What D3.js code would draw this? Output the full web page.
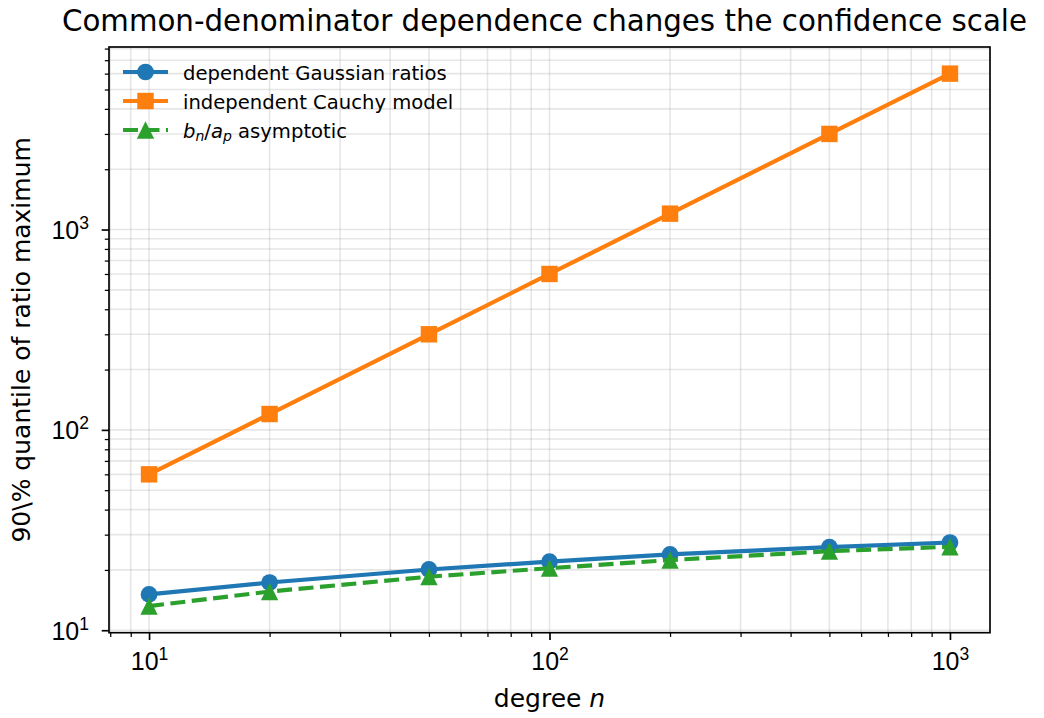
<!DOCTYPE html>
<html>
<head>
<meta charset="utf-8">
<script src="https://cdn.jsdelivr.net/npm/d3@7"></script>
<style>
  body { margin: 0; background: #fff; }
  svg { display: block; font-family: "DejaVu Sans", sans-serif; }
</style>
</head>
<body>
<div id="chart"></div>
<script>
// degree n
const degrees = [10, 20, 50, 100, 200, 500, 1000];
// 90% quantile of the ratio maximum
const gaussianRatios = [15.1, 17.3, 20.1, 22.0, 23.9, 26.0, 27.4];
const cauchyModel = [60, 120, 300, 600, 1200, 3000, 6000];
const asymptotic = [13.2, 15.6, 18.5, 20.4, 22.4, 24.8, 26.1];

const xTicks = [10, 100, 1000];
const yTicks = [10, 100, 1000];

const width = 1044, height = 718;
const plot = { left: 109, right: 990, top: 47, bottom: 632.7 };

const svg = d3.select('#chart')
    .append('svg')
    .attr('width', width)
    .attr('height', height);

// log limits with a 5% margin, like matplotlib
function logDomain(vals) {
    const lo = Math.log10(d3.min(vals)), hi = Math.log10(d3.max(vals));
    const m = (hi - lo) * 0.05;
    return [Math.pow(10, lo - m), Math.pow(10, hi + m)];
}

const x = d3.scaleLog()
    .domain(logDomain(degrees))
    .range([plot.left, plot.right]);

const y = d3.scaleLog()
    .domain(logDomain([...gaussianRatios, ...cauchyModel, ...asymptotic]))
    .range([plot.bottom, plot.top]);

function minorTicks(scale) {
    const [a, b] = scale.domain();
    const out = [];
    for (let e = Math.floor(Math.log10(a)); e <= Math.ceil(Math.log10(b)); e++) {
        for (let k = 2; k <= 9; k++) {
            const v = k * Math.pow(10, e);
            if (v >= a && v <= b) out.push(v);
        }
    }
    return out;
}
const xMinor = minorTicks(x);
const yMinor = minorTicks(y);

// grid, major and minor
const grid = svg.append('g').attr('stroke', '#b0b0b0').attr('stroke-opacity', 0.32).attr('stroke-width', 1.6);
grid.selectAll('.gx')
    .data([...xTicks, ...xMinor])
    .join('line')
    .attr('x1', d => x(d)).attr('x2', d => x(d))
    .attr('y1', plot.top).attr('y2', plot.bottom);
grid.selectAll('.gy')
    .data([...yTicks, ...yMinor])
    .join('line')
    .attr('y1', d => y(d)).attr('y2', d => y(d))
    .attr('x1', plot.left).attr('x2', plot.right);

// axes
const tickFont = 25;
function supLabel(sel, d) {
    const e = Math.round(Math.log10(d));
    sel.text(null);
    sel.append('tspan').text('10');
    sel.append('tspan').attr('font-size', '17.5px').attr('dy', '-10').text(e);
}

const xAxis = svg.append('g')
    .attr('transform', `translate(0,${plot.bottom})`)
    .call(d3.axisBottom(x).tickValues(xTicks).tickSize(7.3).tickFormat(''));
xAxis.select('.domain').remove();
xAxis.selectAll('.tick line').attr('stroke-width', 1.67);
xAxis.selectAll('.tick text')
    .attr('font-size', tickFont + 'px').attr('fill', '#000')
    .attr('y', 37.5).attr('dy', 0)
    .each(function(d) { supLabel(d3.select(this), d); });
svg.append('g')
    .attr('transform', `translate(0,${plot.bottom})`)
    .call(d3.axisBottom(x).tickValues(xMinor).tickSize(4.2).tickFormat(''))
    .call(g => g.select('.domain').remove())
    .selectAll('.tick line').attr('stroke-width', 1.25);

const yAxis = svg.append('g')
    .attr('transform', `translate(${plot.left},0)`)
    .call(d3.axisLeft(y).tickValues(yTicks).tickSize(7.3).tickFormat(''));
yAxis.select('.domain').remove();
yAxis.selectAll('.tick line').attr('stroke-width', 1.67);
yAxis.selectAll('.tick text')
    .attr('font-size', tickFont + 'px').attr('fill', '#000')
    .attr('x', -20).attr('dy', 9)
    .each(function(d) { supLabel(d3.select(this), d); });
svg.append('g')
    .attr('transform', `translate(${plot.left},0)`)
    .call(d3.axisLeft(y).tickValues(yMinor).tickSize(4.2).tickFormat(''))
    .call(g => g.select('.domain').remove())
    .selectAll('.tick line').attr('stroke-width', 1.25);

// matplotlib-style '^': as wide as tall, centred on its box
const triangleUp = {
    draw(ctx, size) {
        const r = Math.sqrt(size) / 2;
        ctx.moveTo(0, -r);
        ctx.lineTo(r, r);
        ctx.lineTo(-r, r);
        ctx.closePath();
    }
};

// series
const series = [
    { name: 'gauss', values: gaussianRatios, color: '#1f77b4', marker: d3.symbolCircle, size: 220, dash: null },
    { name: 'cauchy', values: cauchyModel, color: '#ff7f0e', marker: d3.symbolSquare, size: 270, dash: null },
    { name: 'asym', values: asymptotic, color: '#2ca02c', marker: triangleUp, size: 300, dash: '15,6.5' }
];

const line = d3.line().x(d => x(d[0])).y(d => y(d[1]));

series.forEach(s => {
    const pts = degrees.map((n, i) => [n, s.values[i]]);
    svg.append('path')
        .datum(pts)
        .attr('d', line)
        .attr('fill', 'none')
        .attr('stroke', s.color)
        .attr('stroke-width', 4.17)
        .attr('stroke-dasharray', s.dash);
    svg.append('g').selectAll('path')
        .data(pts)
        .join('path')
        .attr('transform', d => `translate(${x(d[0])},${y(d[1])})`)
        .attr('d', d3.symbol().type(s.marker).size(s.size))
        .attr('fill', s.color);
});

// frame
svg.append('rect')
    .attr('x', plot.left).attr('y', plot.top)
    .attr('width', plot.right - plot.left).attr('height', plot.bottom - plot.top)
    .attr('fill', 'none').attr('stroke', '#000').attr('stroke-width', 1.67);

// legend
const legend = svg.append('g').attr('transform', 'translate(123,72)');
const rowH = 29;
series.forEach((s, i) => {
    const row = legend.append('g').attr('transform', `translate(0,${i * rowH})`);
    row.append('line')
        .attr('x1', 0).attr('x2', 45).attr('y1', 0).attr('y2', 0)
        .attr('stroke', s.color).attr('stroke-width', 4.17)
        .attr('stroke-dasharray', s.dash);
    row.append('path')
        .attr('transform', 'translate(22.5,0)')
        .attr('d', d3.symbol().type(s.marker).size(s.size))
        .attr('fill', s.color);
});
const legText = legend.append('g').attr('font-size', '19.6px').attr('fill', '#000');
legText.append('text').attr('x', 60).attr('y', 7.5).text('dependent Gaussian ratios');
legText.append('text').attr('x', 60).attr('y', 7.5 + rowH).text('independent Cauchy model');
const t3 = legText.append('text').attr('x', 60).attr('y', 7.5 + 2 * rowH);
t3.append('tspan').attr('font-style', 'italic').text('b');
t3.append('tspan').attr('font-style', 'italic').attr('font-size', '14px').attr('dy', 3.5).text('n');
t3.append('tspan').attr('dy', -3.5).text('/');
t3.append('tspan').attr('font-style', 'italic').text('a');
t3.append('tspan').attr('font-style', 'italic').attr('font-size', '14px').attr('dy', 3.5).text('p');
t3.append('tspan').attr('dy', -3.5).text(' asymptotic');

// title and labels
svg.append('text')
    .attr('x', (plot.left + plot.right) / 2 - 5).attr('y', 31)
    .attr('text-anchor', 'middle').attr('font-size', '29.3px')
    .text('Common-denominator dependence changes the confidence scale');

const xl = svg.append('text')
    .attr('x', (plot.left + plot.right) / 2).attr('y', 707)
    .attr('text-anchor', 'middle').attr('font-size', tickFont + 'px');
xl.append('tspan').text('degree ');
xl.append('tspan').attr('font-style', 'italic').text('n');

svg.append('text')
    .attr('transform', `translate(30,${(plot.top + plot.bottom) / 2}) rotate(-90)`)
    .attr('text-anchor', 'middle').attr('font-size', tickFont + 'px')
    .text('90\\% quantile of ratio maximum');
</script>
</body>
</html>
